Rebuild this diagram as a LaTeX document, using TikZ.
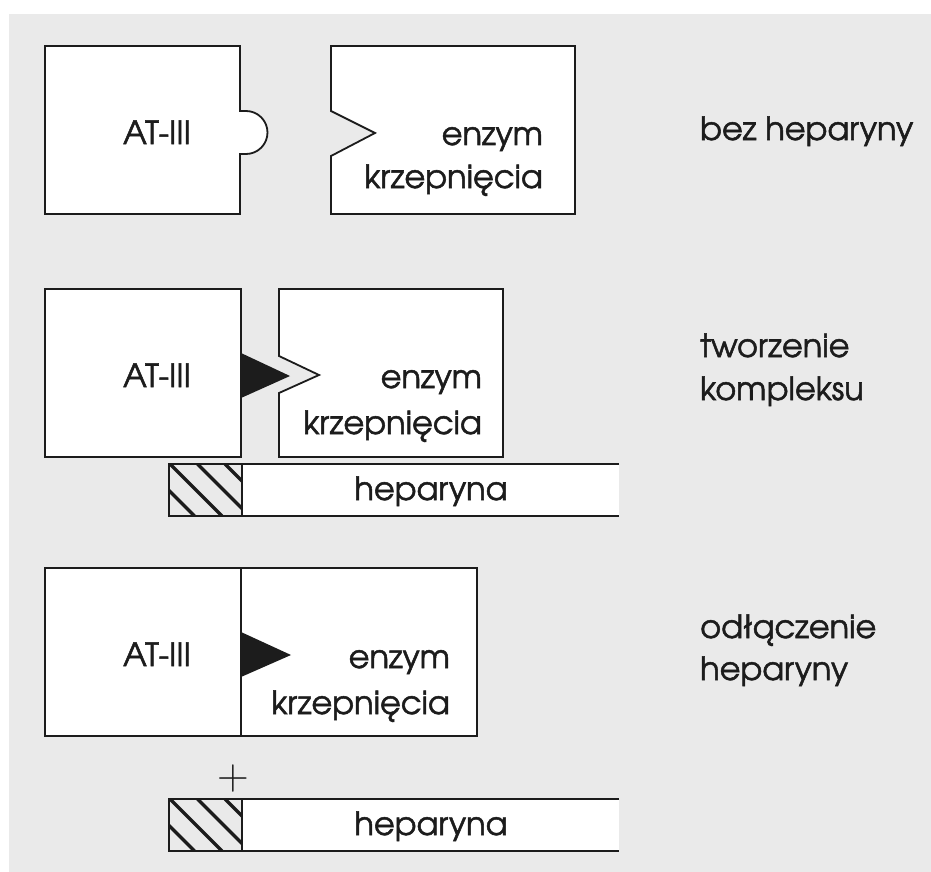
\documentclass[tikz,border=0pt]{standalone}
\usepackage{fontspec}
\setmainfont{TeX Gyre Adventor}[FakeBold=1.6]
\definecolor{bg}{RGB}{234,234,234}
\definecolor{ink}{RGB}{28,28,28}
\begin{document}
\begin{tikzpicture}[x=1pt,y=-1pt,
  piece/.style={fill=white, draw=ink, line width=1.8pt, line join=miter},
  wedge/.style={fill=ink},
  lbl/.style={font=\fontsize{32}{37}\selectfont, inner sep=0pt, text=ink},
  plus/.style={font=\fontfamily{lmr}\fontsize{44}{48}\selectfont, inner sep=0pt, text=ink},
  hepbar/.pic={
    % white strip, open on the right
    \fill[white] (73,0) rectangle (450,52);
    % hatched head of the heparin chain
    \fill[bg] (0,0) rectangle (73,52);
    \begin{scope}
      \clip (0,0) rectangle (73,52);
      \foreach \k in {-3,...,2}
        \draw[ink, line width=3.2pt] (1+27.5*\k,0) -- ++(52,52);
    \end{scope}
    \draw[ink, line width=1.8pt] (450,0) -- (0,0) -- (0,52) -- (450,52);
    \draw[ink, line width=1.8pt] (73,0) -- (73,52);
  }]
\useasboundingbox (0,0) rectangle (931,872);
\fill[white] (0,0) rectangle (931,872);
\fill[bg] (9,14) rectangle (931,872);

% ---- without heparin ----
\draw[piece] (45,46) -- (240,46) -- (240,111) -- (246,111)
  arc[start angle=90, end angle=-90, radius=21.5pt] -- (240,154) -- (240,214) -- (45,214) -- cycle;
\draw[piece] (331,46) -- (575,46) -- (575,214) -- (331,214) -- (331,156) -- (375,133) -- (331,111) -- cycle;
\node[lbl, anchor=base] (at1) at (157,144) {AT-III};
\node[lbl, anchor=base east] (enz1a) at (543,145) {enzym};
\node[lbl, anchor=base east] (enz1b) at (543,188) {krzepnięcia};
\node[lbl, anchor=base west] (cap1) at (700,140) {bez heparyny};

% ---- complex formation ----
\draw[piece] (45,289) rectangle (241,457);
\fill[wedge] (241,353) -- (290,376) -- (241,398) -- cycle;
\draw[piece] (279,289) -- (503,289) -- (503,457) -- (279,457) -- (279,393) -- (319,375) -- (279,356) -- cycle;
\node[lbl, anchor=base] (at2) at (157,387) {AT-III};
\node[lbl, anchor=base east] (enz2a) at (482,388) {enzym};
\node[lbl, anchor=base east] (enz2b) at (482,434) {krzepnięcia};
\pic at (169,464) {hepbar};
\node[lbl, anchor=base] (hep2) at (431,500) {heparyna};
\node[lbl, anchor=base west] (cap2a) at (700,357) {tworzenie};
\node[lbl, anchor=base west] (cap2b) at (700,400) {kompleksu};

% ---- heparin released ----
\draw[piece] (45,568) rectangle (241,736);
\draw[piece] (241,568) rectangle (477,736);
\fill[wedge] (241,632) -- (291,655) -- (241,677) -- cycle;
\node[lbl, anchor=base] (at3) at (157,666) {AT-III};
\node[lbl, anchor=base east] (enz3a) at (450,668) {enzym};
\node[lbl, anchor=base east] (enz3b) at (450,714) {krzepnięcia};
\node[plus] (pl) at (233,779) {+};
\pic at (169,799) {hepbar};
\node[lbl, anchor=base] (hep3) at (431,835) {heparyna};
\node[lbl, anchor=base west] (cap3a) at (700,638) {odłączenie};
\node[lbl, anchor=base west] (cap3b) at (700,680) {heparyny};
\end{tikzpicture}
\end{document}
